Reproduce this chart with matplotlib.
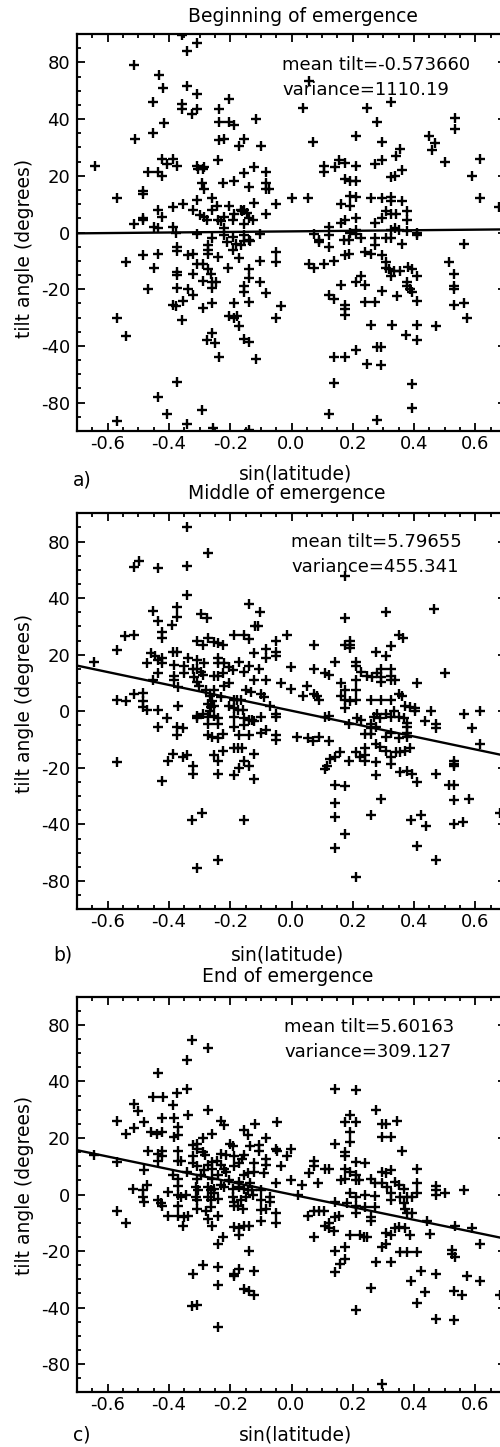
import numpy as np
import matplotlib
matplotlib.use("Agg")
import matplotlib.pyplot as plt
from matplotlib.ticker import FixedLocator, MultipleLocator, FormatStrFormatter

plt.rcParams['font.family'] = ['DejaVu Sans']
plt.rcParams['axes.unicode_minus'] = False

# ---------------- data: (sin(latitude), tilt angle in degrees) ----------------
beginning_points = [
    (-0.514, 78), (-0.433, 71), (-0.418, 62), (-0.451, 52), (-0.416, 38.5), (-0.511, 33),
    (-0.451, 35), (-0.357, 89.5), (-0.340, 84), (-0.308, 87), (-0.340, 63.5), (-0.308, 57.5),
    (-0.357, 50.5), (-0.357, 47), (-0.324, 43.5), (-0.308, 47), (-0.237, 47), (-0.204, 54.5),
    (-0.237, 39), (-0.204, 39), (-0.188, 38), (-0.237, 32.5), (-0.221, 33), (-0.171, 30.5),
    (-0.155, 33), (-0.117, 40), (-0.101, 30.5), (0.038, 47.5), (0.071, 32), (0.057, 67),
    (0.209, 34), (0.245, 47.5), (0.278, 39), (0.296, 32), (0.325, 52), (0.355, 29.5),
    (0.342, 27), (0.459, 29), (0.448, 34), (0.467, 31.5), (0.502, 25), (0.532, 41),
    (0.532, 36.5), (0.616, 26), (0.589, 20), (0.616, 12), (0.676, 9),
    (-0.641, 23.5), (-0.421, 26), (-0.388, 26), (-0.407, 24), (-0.374, 23.5), (-0.467, 21.5),
    (-0.437, 21.5), (-0.421, 20), (-0.241, 25.5), (-0.307, 23.5), (-0.285, 23), (-0.305, 22.5),
    (-0.290, 22.5), (-0.154, 21), (-0.122, 23), (-0.084, 21.5), (-0.293, 17.5), (-0.285, 15.5),
    (-0.225, 17.5), (-0.189, 18), (-0.138, 16), (-0.084, 17.5), (-0.084, 15.5), (-0.073, 15.5),
    (-0.571, 12), (-0.483, 14.5), (-0.483, 13.5), (-0.307, 11.5), (-0.258, 12), (-0.122, 10.5),
    (-0.051, 10), (0.0, 12), (-0.388, 9), (-0.355, 10), (-0.437, 8), (-0.323, 8), (-0.258, 8),
    (-0.243, 9.5), (-0.203, 9.5), (-0.165, 8), (-0.154, 8), (-0.483, 5), (-0.483, 4.5),
    (-0.421, 5.5), (-0.298, 6), (-0.287, 5.5), (-0.276, 4.5), (-0.241, 4.5), (-0.230, 4),
    (-0.219, 5.5), (-0.192, 4.5), (-0.187, 6.5), (-0.163, 7.5), (-0.144, 7), (-0.138, 5),
    (-0.127, 4.5), (-0.084, 6.5), (-0.513, 3), (-0.448, 2), (-0.437, 1.5), (-0.388, 2),
    (-0.220, 1.5), (-0.155, 3), (-0.377, 0), (-0.307, -0.5), (-0.102, -0.5), (-0.258, -2),
    (-0.220, -1), (-0.192, -1.5), (-0.155, -1), (-0.140, -2.5), (-0.209, -3.5), (-0.182, -4),
    (-0.165, -4.5), (-0.154, -3), (-0.135, -3), (-0.374, -5), (-0.374, -6.5), (-0.274, -4.5),
    (-0.274, -6), (-0.192, -6), (-0.483, -8), (-0.437, -7.5), (-0.339, -8), (-0.323, -7.5),
    (-0.274, -7.5), (-0.241, -8.5), (-0.171, -9), (-0.051, -7), (-0.051, -10.5), (-0.540, -10.5),
    (-0.307, -11), (-0.290, -11), (-0.102, -10), (-0.450, -12.5), (-0.374, -14), (-0.374, -15),
    (-0.323, -14.5), (-0.274, -13), (-0.263, -14.5), (-0.206, -12.5), (-0.138, -13), (-0.138, -16),
    (-0.289, -17), (-0.258, -17.5), (-0.247, -17.5), (-0.102, -17.5), (-0.469, -20), (-0.374, -19.5),
    (-0.339, -20), (-0.323, -22), (-0.258, -19.5), (-0.154, -19), (-0.154, -21), (-0.084, -21.5),
    (-0.388, -25.5), (-0.377, -26), (-0.355, -24), (-0.258, -25), (-0.189, -25), (-0.138, -24.5),
    (-0.035, -26), (-0.289, -26.5),
    (0.105, 23.5), (0.105, 21.5), (0.141, 23), (0.154, 25.5), (0.176, 24.5), (0.209, 23.5),
    (0.274, 24), (0.296, 25.5), (0.326, 19.5), (0.339, 20), (0.359, 22), (0.176, 19), (0.192, 18),
    (0.209, 18), (0.054, 12), (0.160, 10), (0.192, 13), (0.192, 9.5), (0.209, 12.5), (0.261, 12),
    (0.296, 12), (0.326, 12.5), (0.326, 11), (0.359, 11), (0.307, 7.5), (0.326, 6.5), (0.341, 6.5),
    (0.377, 7.5), (0.377, 4.5), (0.160, 3.5), (0.176, 4.5), (0.209, 5), (0.274, 3.5), (0.296, 5),
    (0.122, 2), (0.209, 1), (0.192, 0), (0.326, 1), (0.339, 1.5), (0.350, 1), (0.377, 0.5),
    (0.410, 0), (0.073, -0.5), (0.089, -2.5), (0.089, -3.5), (0.122, -1), (0.122, -5), (0.170, -2.5),
    (0.187, -2.5), (0.209, -0.5), (0.228, -2), (0.274, -2), (0.274, -4.5), (0.309, -2), (0.326, -2),
    (0.359, -4), (0.410, -1), (0.562, -4), (0.174, -8), (0.187, -7.5), (0.241, -7), (0.261, -7.5),
    (0.296, -8), (0.057, -11), (0.073, -12.5), (0.105, -11), (0.138, -10), (0.309, -10.5),
    (0.309, -12.5), (0.318, -13), (0.334, -13.5), (0.355, -13.5), (0.380, -12), (0.393, -13),
    (0.410, -15.5), (0.326, -15.5), (0.513, -10.5), (0.529, -14.5), (0.529, -19), (0.529, -20),
    (0.209, -17.5), (0.228, -15.5), (0.241, -18.5), (0.160, -18.5), (0.122, -22), (0.138, -23.5),
    (0.176, -25.5), (0.241, -24.5), (0.274, -24.5), (0.296, -20.5), (0.345, -22.5), (0.377, -17.5),
    (0.377, -19), (0.388, -20), (0.393, -21), (0.410, -24), (0.529, -25.5), (0.562, -25),
    (-0.571, -30), (-0.541, -36.5), (-0.357, -31), (-0.259, -35.5), (-0.275, -38), (-0.250, -39),
    (-0.237, -47.5), (-0.205, -29.5), (-0.187, -30), (-0.177, -29.5), (-0.171, -33), (-0.155, -37.5),
    (-0.139, -38.5), (-0.117, -49.5), (-0.052, -30), (-0.373, -65.5), (-0.436, -76), (-0.405, -84),
    (-0.571, -86.5), (-0.340, -87.5), (-0.291, -82.5), (-0.255, -89), (-0.139, -89.5),
    (0.122, -84), (0.138, -66), (0.138, -48), (0.176, -48), (0.209, -43), (0.176, -27), (0.176, -29),
    (0.245, -52.5), (0.278, -40.5), (0.278, -86), (0.293, -40.5), (0.293, -53.5), (0.258, -32.5),
    (0.328, -32.5), (0.375, -36), (0.410, -32.5), (0.410, -38), (0.393, -66.5), (0.393, -82),
    (0.470, -33), (0.573, -30),
]

middle_points = [
    (-0.340, 85), (-0.273, 72), (-0.514, 62), (-0.497, 66.5), (-0.436, 61.5), (-0.340, 63),
    (-0.340, 42), (0.176, 56), (-0.451, 35.5), (-0.436, 32), (-0.375, 37), (-0.375, 33.5),
    (-0.389, 30.5), (-0.295, 34.5), (-0.277, 33), (-0.139, 38), (-0.103, 35), (-0.120, 30),
    (-0.109, 30), (0.176, 33), (0.310, 35), (0.466, 36),
    (-0.543, 26.5), (-0.513, 27), (-0.421, 28), (-0.421, 26), (-0.571, 21.5), (-0.643, 17.5),
    (-0.307, 25), (-0.290, 23.5), (-0.274, 26), (-0.252, 24.5), (-0.241, 24), (-0.225, 23.5),
    (-0.187, 27), (-0.154, 27), (-0.138, 25.5), (-0.122, 20.5), (-0.084, 22), (-0.051, 25),
    (-0.051, 21), (-0.015, 27), (-0.457, 20.5), (-0.446, 19.5), (-0.437, 18), (-0.421, 19),
    (-0.421, 17), (-0.388, 21), (-0.374, 21), (-0.470, 17), (-0.385, 16.5), (-0.352, 16),
    (-0.339, 19), (-0.307, 18), (-0.323, 15), (-0.307, 15), (-0.294, 14), (-0.285, 17),
    (-0.241, 19), (-0.241, 17), (-0.220, 17), (-0.203, 15.5), (-0.192, 14.5), (-0.171, 17.5),
    (-0.138, 16), (-0.154, 14), (-0.105, 15), (-0.084, 19), (-0.051, 19.5), (-0.252, 12.5),
    (-0.241, 12.5), (-0.225, 13.5), (-0.437, 13.5), (-0.385, 12.5), (-0.385, 11), (-0.350, 13.5),
    (-0.317, 12), (-0.290, 13), (-0.307, 10.5), (-0.301, 9), (-0.122, 11), (-0.084, 11),
    (-0.035, 10), (-0.002, 15.5), (-0.002, 8), (-0.453, 11), (-0.372, 8.5), (-0.220, 9),
    (-0.203, 10), (-0.279, 7.5), (-0.252, 7.5), (-0.149, 7.5), (-0.133, 7), (-0.100, 6),
    (-0.089, 5), (-0.513, 6), (-0.483, 6.5), (-0.265, 5.5), (-0.258, 3.5), (-0.230, 5),
    (-0.189, 4), (-0.178, 4), (-0.203, 2), (-0.165, 4), (-0.070, 2), (-0.051, -1), (-0.051, -2),
    (-0.571, 4), (-0.540, 3.5), (-0.483, 3.5), (-0.483, 1.5), (-0.470, 0.5), (-0.437, 0.5),
    (-0.372, 2), (-0.274, 2.5), (-0.263, 1.5), (-0.265, 0), (-0.252, 2), (-0.187, 1), (-0.176, 0.5),
    (-0.157, 0.5), (-0.407, -2.5), (-0.307, -1.5), (-0.307, -2.5), (-0.290, -1), (-0.274, -2),
    (-0.274, -4.5), (-0.252, -1.5), (-0.241, -2.5), (-0.187, -2), (-0.154, -2.5), (-0.138, -3),
    (-0.100, -2), (-0.437, -5.5), (-0.374, -5.5), (-0.355, -6), (-0.374, -8.5), (-0.241, -4.5),
    (-0.187, -5.5), (-0.154, -5), (-0.130, -3), (-0.122, -3.5), (-0.274, -8.5), (-0.258, -9),
    (-0.241, -9.5), (-0.222, -8), (-0.172, -8.5), (-0.138, -8.5), (-0.100, -7.5), (-0.084, -6.5),
    (-0.051, -8.5), (-0.051, -10), (-0.222, -14), (-0.187, -13), (-0.176, -13), (-0.160, -13),
    (-0.154, -17.5), (-0.122, -15), (-0.252, -15.5), (-0.241, -17.5), (-0.388, -15), (-0.404, -17.5),
    (-0.355, -16), (-0.341, -15.5), (-0.323, -19.5), (-0.323, -22), (-0.241, -22), (-0.189, -22.5),
    (-0.171, -20), (-0.138, -19.5), (-0.122, -24), (-0.571, -18), (-0.421, -24.5),
    (-0.324, -38.5), (-0.291, -36), (-0.155, -38.5), (-0.308, -71), (-0.240, -65),
    (0.141, -32.5), (0.141, -37.5), (0.141, -57), (0.176, -47), (0.209, -77), (0.258, -36.5),
    (0.293, -31), (0.390, -38.5), (0.422, -36.5), (0.440, -41), (0.408, -55), (0.470, -65),
    (0.529, -31.5), (0.529, -40), (0.560, -39), (0.578, -31), (0.680, -36),
    (0.350, 27), (0.363, 26), (0.073, 23.5), (0.176, 23.5), (0.192, 25), (0.192, 23.5),
    (0.192, 22.5), (0.276, 21), (0.309, 19.5), (0.326, 23), (0.073, 15), (0.141, 17.5),
    (0.209, 17.5), (0.209, 16), (0.109, 13.5), (0.122, 13), (0.228, 14), (0.247, 12.5),
    (0.263, 12), (0.279, 13.5), (0.293, 15), (0.293, 12), (0.293, 10.5), (0.326, 15), (0.326, 12.5),
    (0.326, 11), (0.339, 11), (0.410, 10), (0.502, 13.5), (0.051, 9), (0.037, 5.5), (0.073, 6),
    (0.084, 5.5), (0.089, 4), (0.160, 10), (0.174, 7.5), (0.209, 11), (0.209, 7.5), (0.160, 5.5),
    (0.174, 4), (0.192, 3.5), (0.209, 4), (0.176, 1), (0.258, 4), (0.293, 4), (0.326, 4),
    (0.350, 6), (0.361, 5.5), (0.372, 2), (0.388, 1.5), (0.404, 1), (0.404, 0), (0.454, 0),
    (0.437, -3.5), (0.470, -4.5), (0.470, -6), (0.562, -1), (0.616, 0), (0.589, -6), (0.616, -11.5),
    (0.109, -2), (0.122, -1.5), (0.214, -2.5), (0.228, -3), (0.187, -4.5), (0.268, -2), (0.279, -1),
    (0.290, -2.5), (0.307, -1), (0.324, -2), (0.334, 0), (0.350, -2), (0.366, -2.5), (0.377, -4),
    (0.377, -5.5), (0.377, -7.5), (0.377, -9), (0.258, -4.5), (0.276, -5.5), (0.258, -6),
    (0.241, -8), (0.261, -8), (0.307, -9), (0.326, -7.5), (0.350, -9.5), (0.018, -9), (0.054, -9.5),
    (0.070, -10.5), (0.089, -9), (0.122, -10.5), (0.276, -11.5), (0.290, -12.5), (0.307, -14),
    (0.326, -16), (0.341, -14.5), (0.355, -14.5), (0.372, -14), (0.388, -13), (0.157, -14.5),
    (0.143, -16), (0.127, -17), (0.116, -19.5), (0.109, -20.5), (0.187, -17.5), (0.209, -14.5),
    (0.225, -16), (0.241, -13), (0.241, -15.5), (0.241, -17.5), (0.276, -18), (0.326, -18.5),
    (0.355, -21.5), (0.377, -21), (0.393, -22), (0.410, -25), (0.276, -22.5), (0.470, -22),
    (0.529, -17.5), (0.529, -18.5), (0.529, -19.5), (0.513, -26), (0.529, -26), (0.141, -26),
    (0.174, -26.5),
]

end_points = [
    (-0.324, 69), (-0.273, 64), (-0.340, 55), (-0.340, 37.5), (-0.436, 46), (-0.451, 34.5),
    (-0.418, 34.5), (-0.373, 36), (0.141, 37.5), (0.209, 37),
    (-0.513, 32), (-0.500, 29.5), (-0.388, 31.5), (-0.274, 30), (-0.570, 26), (-0.540, 21.5),
    (-0.513, 23.5), (-0.480, 25.5), (-0.421, 27), (-0.383, 27), (-0.372, 24), (-0.339, 28),
    (-0.457, 22), (-0.440, 21.5), (-0.421, 22), (-0.383, 20.5), (-0.372, 21), (-0.230, 26),
    (-0.220, 24.5), (-0.258, 21.5), (-0.154, 23), (-0.141, 21), (-0.120, 25), (-0.084, 20),
    (-0.048, 25.5), (-0.290, 20), (-0.307, 18), (-0.320, 17.5), (-0.307, 16), (-0.200, 18),
    (-0.192, 17), (-0.135, 17), (-0.105, 17.5), (-0.105, 15.5), (-0.084, 12.5), (-0.084, 10.5),
    (-0.050, 16), (-0.046, 15.5), (-0.015, 13.5), (-0.002, 16), (-0.467, 15.5), (-0.437, 14.5),
    (-0.421, 15.5), (-0.437, 12), (-0.421, 13.5), (-0.372, 15.5), (-0.372, 12), (-0.359, 12),
    (-0.323, 13.5), (-0.290, 15), (-0.283, 14), (-0.258, 11.5), (-0.243, 12), (-0.230, 14.5),
    (-0.214, 14), (-0.189, 13.5), (-0.160, 12.5), (-0.154, 14), (-0.122, 11), (-0.035, 10),
    (-0.323, 11), (-0.307, 10), (-0.285, 8.5), (-0.274, 10.5), (-0.258, 9), (-0.230, 10.5),
    (-0.220, 9), (-0.214, 8), (-0.187, 10), (-0.171, 11), (-0.154, 7), (-0.141, 7.5), (-0.122, 8),
    (-0.089, 7.5), (-0.480, 8.5), (-0.570, 11.5), (-0.643, 14), (-0.388, 7), (-0.372, 5.5),
    (-0.340, 8), (-0.307, 5.5), (-0.296, 7), (-0.258, 5.5), (-0.241, 7), (-0.203, 5), (-0.171, 4.5),
    (-0.134, 4), (-0.051, 4), (-0.002, 5), (-0.518, 2), (-0.483, 1.5), (-0.470, 3.5), (-0.404, 1),
    (-0.372, 3), (-0.312, 2.5), (-0.304, 1.5), (-0.274, 2.5), (-0.263, 1.5), (-0.252, 2),
    (-0.230, 3.5), (-0.220, 2.5), (-0.190, 2), (-0.171, 2.5), (-0.154, 2), (-0.141, 1.5),
    (-0.100, 1.5), (-0.070, -1), (-0.483, -1), (-0.437, -2), (-0.426, -3), (-0.421, -4),
    (-0.372, 0), (-0.359, -1), (-0.345, 0), (-0.311, -1), (-0.307, -2), (-0.272, -1), (-0.263, -2),
    (-0.252, 0.5), (-0.241, -1.5), (-0.192, -1), (-0.187, -2.5), (-0.165, -2), (-0.150, -1),
    (-0.130, 1.5), (-0.127, 0), (-0.480, -2.5), (-0.404, -7.5), (-0.372, -4), (-0.372, -7.5),
    (-0.350, -8), (-0.339, -7.5), (-0.309, -5), (-0.279, -6), (-0.262, -4.5), (-0.274, -8.5),
    (-0.241, -7.5), (-0.187, -4), (-0.176, -4), (-0.157, -5), (-0.084, -5), (-0.070, -2.5),
    (-0.051, -6.5), (-0.100, -2), (-0.100, -5.5), (-0.570, -6), (-0.540, -10), (-0.355, -11),
    (-0.258, -11), (-0.187, -11.5), (-0.171, -12), (-0.154, -11), (-0.138, -11), (-0.100, -9.5),
    (-0.051, -10), (-0.241, -17.5), (-0.225, -15), (-0.171, -14.5), (-0.138, -20), (-0.290, -25),
    (-0.323, -28), (-0.241, -25.5), (-0.189, -28), (-0.171, -26.5), (-0.122, -27),
    (-0.240, -32), (-0.324, -39.5), (-0.308, -39), (-0.240, -53.5), (-0.188, -29), (-0.155, -33.5),
    (-0.139, -34), (-0.121, -35.5), (0.141, -27.5), (0.209, -41.5), (0.258, -33), (0.294, -87),
    (0.391, -30.5), (0.408, -38.5), (0.423, -27), (0.437, -34.5), (0.470, -28), (0.470, -48),
    (0.529, -34), (0.529, -49), (0.557, -35.5), (0.573, -29), (0.616, -30.5), (0.680, -35.5),
    (0.276, 30), (0.192, 28), (0.209, 25.5), (0.174, 25.5), (0.192, 22), (0.192, 18.5),
    (0.296, 25), (0.309, 25), (0.345, 26), (0.296, 20.5), (0.326, 20.5), (0.359, 15.5),
    (0.141, 18), (0.174, 15), (0.174, 13.5), (0.209, 11.5), (0.241, 11), (0.073, 12), (0.073, 10),
    (0.109, 9), (0.122, 9), (0.057, 7.5), (0.174, 9), (0.192, 8), (0.209, 7), (0.296, 8),
    (0.307, 7.5), (0.326, 8.5), (0.410, 9), (0.035, 3.5), (0.087, 4), (0.160, 5), (0.174, 5.5),
    (0.209, 5), (0.219, 5), (0.261, 5.5), (0.274, 4), (0.296, 4), (0.312, 2.5), (0.339, 4.5),
    (0.350, 3.5), (0.366, 2), (0.410, 4), (0.470, 3), (0.470, 1.5), (0.470, 0), (0.502, 0.5),
    (0.562, 1.5), (0.192, 0.5), (0.209, -1), (0.241, 0), (0.274, -0.5), (0.326, 0.5), (0.326, -2),
    (0.355, -1), (0.377, -1), (0.393, -1), (0.410, 0.5), (0.021, 0), (0.141, -2.5), (0.181, -3),
    (0.209, -4), (0.241, -4.5), (0.274, -4.5), (0.366, -3), (0.372, -5), (0.377, -6.5),
    (0.393, -6.5), (0.054, -7.5), (0.073, -6), (0.089, -6), (0.105, -6), (0.209, -6.5),
    (0.261, -8), (0.261, -9.5), (0.143, -8), (0.122, -10), (0.109, -11), (0.122, -12), (0.138, -13),
    (0.154, -7.5), (0.307, -13.5), (0.326, -14.5), (0.339, -12), (0.350, -11.5), (0.370, -12),
    (0.388, -14.5), (0.442, -9.5), (0.453, -14), (0.533, -11), (0.589, -12), (0.616, -17.5),
    (0.073, -15), (0.192, -14.5), (0.225, -14.5), (0.236, -15), (0.247, -15), (0.143, -20),
    (0.176, -18.5), (0.176, -23), (0.157, -24.5), (0.307, -17.5), (0.296, -18.5), (0.355, -20.5),
    (0.377, -20.5), (0.410, -20.5), (0.524, -19.5), (0.524, -21), (0.535, -22), (0.276, -24),
    (0.326, -24),
]

panel_titles = ["Beginning of emergence", "Middle of emergence", "End of emergence"]
panel_letters = ["a)", "b)", "c)"]
mean_tilts = ["-0.573660", "5.79655", "5.60163"]
variances = ["1110.19", "455.341", "309.127"]
fit_intercepts = [0.4, 0.2, 0.0]
fit_slopes = [1.0, -22.8, -22.4]

x_ticks = [-0.6, -0.4, -0.2, 0.0, 0.2, 0.4, 0.6]
y_ticks = [-80, -40, -20, 0, 20, 40, 80]
y_minor = [-85, -70, -60, -50, -35, -30, -25, -15, -10, -5,
           5, 10, 15, 25, 30, 35, 50, 60, 70, 85]

# ---------------- piecewise tilt-angle axis scale ----------------
_deg = [0, 20, 40, 80, 90, 180]
_pos = [0, 1, 2, 3, 3.5, 8]


def fwd(v):
    v = np.asarray(v, dtype=float)
    return np.sign(v) * np.interp(np.abs(v), _deg, _pos)


def inv(u):
    u = np.asarray(u, dtype=float)
    return np.sign(u) * np.interp(np.abs(u), _pos, _deg)


W, H = 500, 1447
fig = plt.figure(figsize=(W / 100, H / 100), dpi=100)

# axes boxes in pixels: (left, top, right, bottom)
boxes = [(77, 34, 506, 431), (77, 513.3, 506, 909.3), (77, 996.7, 506, 1392.3)]
title_xy = [(303, 17), (287, 493), (288, 977)]
xlabel_xy = [(296, 474), (288, 955), (296, 1435)]
letter_xy = [(73, 480), (53, 955), (73, 1435)]
ylabel_xy = [(25, 248), (25, 703), (25, 1185)]
stats_xy = [(282, 65), (291, 541.7), (284, 1026.7)]

datasets = [beginning_points, middle_points, end_points]


def fx(px):
    return px / W


def fy(py):
    return 1 - py / H


for i, pts in enumerate(datasets):
    l, t, r, b = boxes[i]
    ax = fig.add_axes([fx(l), fy(b), (r - l) / W, (b - t) / H])
    ax.set_yscale('function', functions=(fwd, inv))
    arr = np.array(pts)
    ax.plot(arr[:, 0], arr[:, 1], linestyle='none', marker='+', color='black',
            markersize=6.5, markeredgewidth=1.7)
    xl = np.array([-0.7, 0.7])
    ax.plot(xl, fit_intercepts[i] + fit_slopes[i] * xl, color='black', lw=1.7)
    ax.set_xlim(-0.7, 0.7)
    ax.set_ylim(-90, 90)
    ax.xaxis.set_major_locator(FixedLocator(x_ticks))
    ax.xaxis.set_minor_locator(MultipleLocator(0.05))
    ax.xaxis.set_major_formatter(FormatStrFormatter('%.1f'))
    ax.yaxis.set_major_locator(FixedLocator(y_ticks))
    ax.yaxis.set_minor_locator(FixedLocator(y_minor))
    ax.set_yticklabels([str(v) for v in y_ticks])
    ax.tick_params(which='both', direction='in', top=True, right=True, width=1.3,
                   labelsize=13)
    ax.tick_params(which='major', length=6)
    ax.tick_params(which='minor', length=3)
    ax.tick_params(axis='x', pad=3)
    ax.tick_params(axis='y', pad=5)
    for s in ax.spines.values():
        s.set_linewidth(1.6)

    sx, sy = stats_xy[i]
    ax.text(fx(sx), fy(sy), "mean tilt=" + mean_tilts[i], transform=fig.transFigure,
            fontsize=13, ha='left', va='center')
    ax.text(fx(sx), fy(sy + 25), "variance=" + variances[i], transform=fig.transFigure,
            fontsize=13, ha='left', va='center')

    fig.text(fx(title_xy[i][0]), fy(title_xy[i][1]), panel_titles[i], fontsize=13.5,
             ha='center', va='center')
    fig.text(fx(xlabel_xy[i][0]), fy(xlabel_xy[i][1]), "sin(latitude)", fontsize=13.5,
             ha='center', va='center')
    fig.text(fx(letter_xy[i][0]), fy(letter_xy[i][1]), panel_letters[i], fontsize=13.5,
             ha='left', va='center')
    fig.text(fx(ylabel_xy[i][0]), fy(ylabel_xy[i][1]), "tilt angle (degrees)", fontsize=13.5,
             ha='center', va='center', rotation=90)

fig.savefig("out.png", dpi=100)
